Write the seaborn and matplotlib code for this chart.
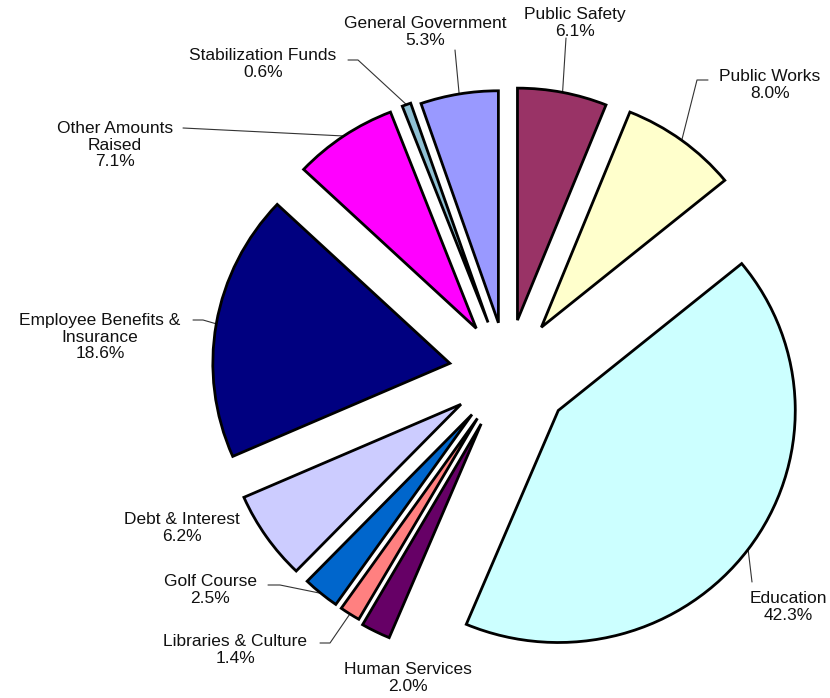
import numpy as np
import matplotlib
matplotlib.use("Agg")
import matplotlib.pyplot as plt
import seaborn as sns

# Budget shares, listed clockwise from the top of the pie
categories = ["Public Safety", "Public Works", "Education", "Human Services",
              "Libraries & Culture", "Golf Course", "Debt & Interest",
              "Employee Benefits &\nInsurance", "Other Amounts\nRaised",
              "Stabilization Funds", "General Government"]
shares = [6.1, 8.0, 42.3, 2.0, 1.4, 2.5, 6.2, 18.6, 7.1, 0.6, 5.3]
colors = ["#993366", "#FFFFCC", "#CCFFFF", "#660066", "#FF8080", "#0066CC",
          "#CCCCFF", "#000080", "#FF00FF", "#8FC0D3", "#9999FF"]

# Figure geometry in pixels: pie centre and (slightly elliptical) radii
PX_W, PX_H = 830, 698
CX, CY, RX, RY = 507, 373, 237, 232

# How far each slice is pulled out from the centre, in pixels
pull_px = [55, 58, 64, 58, 55, 55, 56, 58, 55, 55, 52]

# Label placement in figure pixels: text centre, and where a leader line leaves the text
# (None = no leader), plus an optional horizontal stub before the leader bends.
label_pos = [(575, 23), (770, 85), (788, 607), (408, 678), (235, 650), (210, 590),
             (182, 528), (100, 337), (115, 145), (263, 64), (425, 32)]
leader_from = [(566, 38), (708, 80), (752, 582), None, (320, 643), (268, 585),
               None, (193, 320), (183, 128), (348, 60), (455, 50)]
stub = [0, -11, 0, 0, 10, 12, 0, 10, 0, 10, 0]

sns.set_theme(style="white")
plt.rcParams["font.family"] = ["Liberation Sans", "DejaVu Sans"]

fig = plt.figure(figsize=(PX_W / 100, PX_H / 100), dpi=100)
ax = fig.add_axes([0, 0, 1, 1])


def to_data(p):
    return ((p[0] - CX) / RX, (CY - p[1]) / RY)


wedges, _ = ax.pie(shares, colors=colors, startangle=90, counterclock=False,
                   explode=[d / RX for d in pull_px], radius=1.0,
                   wedgeprops=dict(edgecolor="black", linewidth=2.0))

for w, name, val, pos, lf, st in zip(wedges, categories, shares, label_pos,
                                     leader_from, stub):
    tx, ty = to_data(pos)
    ax.text(tx, ty, f"{name}\n{val:.1f}%", ha="center", va="center",
            fontsize=12.5, color="#111111", linespacing=1.15)
    if lf is not None:
        mid = np.deg2rad((w.theta1 + w.theta2) / 2)
        ex = w.center[0] + w.r * np.cos(mid)
        ey = w.center[1] + w.r * np.sin(mid)
        sx, sy = to_data(lf)
        bx, by = to_data((lf[0] + st, lf[1]))
        ax.plot([sx, bx, ex], [sy, by, ey], color="#333333", lw=0.8, zorder=0.5)

ax.set_aspect(RY / RX)
ax.set_xlim(-CX / RX, (PX_W - CX) / RX)
ax.set_ylim(-(PX_H - CY) / RY, CY / RY)
ax.axis("off")

fig.savefig("out.png", dpi=100, facecolor="white")
